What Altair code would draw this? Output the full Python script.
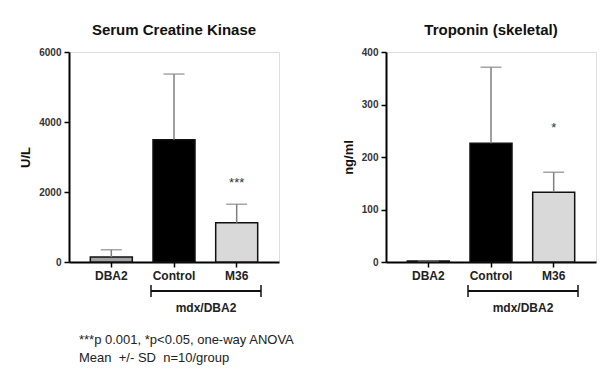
import altair as alt
import pandas as pd

groups = ["DBA2", "Control", "M36"]
fills = ["#a3a3a3", "#000000", "#d9d9d9"]

ck_mean = [140, 3490, 1120]
ck_sd = [210, 1880, 530]
ck_stars = ["", "", "***"]
ck_star_y = [0, 0, 2260]

tn_mean = [2, 226, 133]
tn_sd = [0, 145, 38]
tn_stars = ["", "", "*"]
tn_star_y = [0, 0, 255]

bracket_label = "mdx/DBA2"
footnote = ["***p 0.001, *p<0.05, one-way ANOVA", "Mean \u00a0+/- SD \u00a0n=10/group"]

FONT = "Liberation Sans"
W, H = 210, 210


def panel(mean, sd, stars, star_y, title, ytitle, ymax, ystep, with_footnote):
    df = pd.DataFrame({
        "group": groups,
        "mean": mean,
        "top": [m + s for m, s in zip(mean, sd)],
        "star": stars,
        "star_y": star_y,
    })
    x = alt.X("group:N", sort=groups,
              scale=alt.Scale(paddingInner=0.33, paddingOuter=0.34),
              axis=alt.Axis(title=None, labelAngle=0, labelFont=FONT, labelFontSize=12,
                            labelFontWeight="bold", labelColor="#222", labelPadding=3,
                            domainColor="black", domainWidth=2, tickColor="black",
                            tickWidth=1.5, tickSize=5))
    yscale = alt.Scale(domain=[0, ymax], nice=False)
    yaxis = alt.Axis(title=ytitle, values=list(range(0, ymax + 1, ystep)), grid=False,
                     format="d",
                     labelFont=FONT, labelFontSize=10, labelFontWeight="bold",
                     labelColor="#333", labelPadding=3, titleFont=FONT, titleFontSize=13,
                     titleFontWeight="bold", titleColor="#111", titlePadding=6,
                     domainColor="black", domainWidth=2, tickColor="black",
                     tickWidth=1.5, tickSize=5)
    base = alt.Chart(df)
    bars = base.mark_bar(stroke="#111", strokeWidth=1.5).encode(
        x=x,
        y=alt.Y("mean:Q", scale=yscale, axis=yaxis),
        color=alt.Color("group:N", scale=alt.Scale(domain=groups, range=fills), legend=None),
    )
    err = base.mark_rule(color="#7f7f7f", strokeWidth=1.5).encode(
        x=alt.X("group:N", sort=groups), y="mean:Q", y2="top:Q")
    cap = base.mark_tick(color="#7f7f7f", thickness=1.5, size=21).encode(
        x=alt.X("group:N", sort=groups), y="top:Q")
    star = base.transform_filter(alt.datum.star != "").mark_text(
        font=FONT, fontSize=13, color="#333", baseline="middle").encode(
        x=alt.X("group:N", sort=groups), y="star_y:Q", text="star:N")

    bdf = pd.DataFrame({"label": [bracket_label]})
    bb = alt.Chart(bdf)
    hline = bb.mark_rule(color="#111", strokeWidth=2).encode(
        x=alt.value(82), x2=alt.value(192), y=alt.value(239))
    lcap = bb.mark_rule(color="#111", strokeWidth=1.5).encode(
        x=alt.value(82), y=alt.value(233), y2=alt.value(245))
    rcap = bb.mark_rule(color="#111", strokeWidth=1.5).encode(
        x=alt.value(192), y=alt.value(233), y2=alt.value(245))
    blabel = bb.mark_text(font=FONT, fontSize=12, fontWeight="bold", color="#222",
                          baseline="middle").encode(
        x=alt.value(137), y=alt.value(256), text="label:N")
    layers = [bars, err, cap, star, hline, lcap, rcap, blabel]
    if with_footnote:
        fdf = pd.DataFrame({"line": footnote, "row": [0, 1]})
        fb = alt.Chart(fdf)
        l1 = fb.transform_filter(alt.datum.row == 0).mark_text(
            font=FONT, fontSize=13, color="#222", align="left", baseline="middle").encode(
            x=alt.value(10), y=alt.value(288), text="line:N")
        l2 = fb.transform_filter(alt.datum.row == 1).mark_text(
            font=FONT, fontSize=13, color="#222", align="left", baseline="middle").encode(
            x=alt.value(10), y=alt.value(306), text="line:N")
        layers += [l1, l2]
    return alt.layer(*layers).properties(
        width=W, height=H,
        title=alt.TitleParams(title, font=FONT, fontSize=15, fontWeight="bold",
                              color="#111", anchor="middle", offset=9),
    )


left = panel(ck_mean, ck_sd, ck_stars, ck_star_y, "Serum Creatine Kinase", "U/L", 6000, 2000, True)
right = panel(tn_mean, tn_sd, tn_stars, tn_star_y, "Troponin (skeletal)", "ng/ml", 400, 100, False)

chart = alt.hconcat(left, right, spacing=46).properties(
    padding={"left": 11, "top": 14, "right": 0, "bottom": 0}
).configure_view(stroke=None).configure(background="white")

chart.save("out.html", embed_options={"renderer": "svg", "actions": False})
